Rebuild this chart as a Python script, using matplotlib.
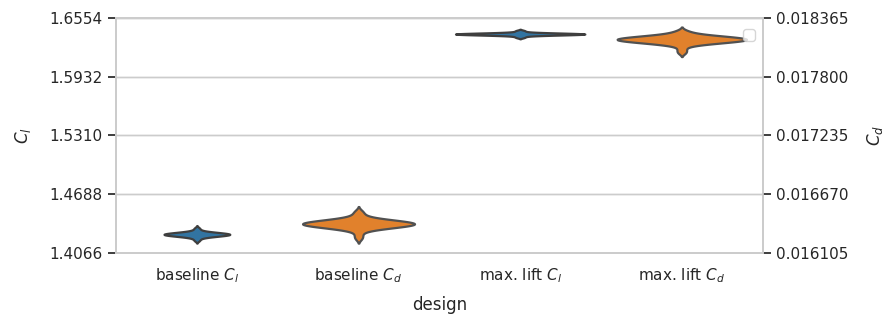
"""Violin plot of lift and drag coefficients for baseline vs. max-lift designs."""
import numpy as np
import pandas as pd
import matplotlib
matplotlib.use("Agg")
import matplotlib.pyplot as plt
from matplotlib.ticker import FixedLocator, FormatStrFormatter
import seaborn as sns

DESIGNS = ["baseline $C_l$", "baseline $C_d$", "max. lift $C_l$", "max. lift $C_d$"]

baseline_cl = [1.42636, 1.42648, 1.42660, 1.42672, 1.42684, 1.42697, 1.42710, 1.42723,
               1.42737, 1.42751, 1.42767, 1.42783, 1.42801, 1.42821, 1.42843, 1.42869,
               1.42901, 1.42946, 1.43030, 1.43170, 1.43314,
               1.42624, 1.42612, 1.42600, 1.42588, 1.42576, 1.42563, 1.42550, 1.42537,
               1.42523, 1.42509, 1.42493, 1.42477, 1.42459, 1.42439, 1.42417, 1.42391,
               1.42359, 1.42314, 1.42230, 1.42090, 1.41946]
maxlift_cl = [1.63843, 1.63849, 1.63855, 1.63861, 1.63867, 1.63873, 1.63880, 1.63887,
              1.63894, 1.63901, 1.63908, 1.63917, 1.63926, 1.63935, 1.63947, 1.63959,
              1.63976, 1.63998, 1.64040, 1.64128, 1.64218,
              1.63837, 1.63831, 1.63825, 1.63819, 1.63813, 1.63807, 1.63800, 1.63794,
              1.63787, 1.63779, 1.63772, 1.63763, 1.63755, 1.63745, 1.63734, 1.63721,
              1.63704, 1.63682, 1.63640, 1.63552, 1.63462]
baseline_cd = [0.0163861, 0.0163882, 0.0163903, 0.0163924, 0.0163946, 0.0163969, 0.0163991,
               0.0164015, 0.0164040, 0.0164065, 0.0164092, 0.0164121, 0.0164153, 0.0164188,
               0.0164227, 0.0164273, 0.0164331, 0.0164410, 0.0164559, 0.0164807, 0.0165062,
               0.0163840, 0.0163818, 0.0163797, 0.0163776, 0.0163754, 0.0163732, 0.0163709,
               0.0163685, 0.0163661, 0.0163635, 0.0163608, 0.0163579, 0.0163547, 0.0163512,
               0.0163473, 0.0163427, 0.0163369, 0.0163290, 0.0163141, 0.0162765, 0.0162446]
maxlift_cd = [0.0181600, 0.0181619, 0.0181638, 0.0181658, 0.0181677, 0.0181698, 0.0181718,
              0.0181740, 0.0181762, 0.0181786, 0.0181810, 0.0181837, 0.0181866, 0.0181897,
              0.0181933, 0.0181975, 0.0182027, 0.0182099, 0.0182234, 0.0182402,
              0.0181580, 0.0181561, 0.0181542, 0.0181522, 0.0181503, 0.0181482, 0.0181462,
              0.0181440, 0.0181418, 0.0181394, 0.0181370, 0.0181343, 0.0181314, 0.0181283,
              0.0181247, 0.0181205, 0.0181153, 0.0181081, 0.0180946, 0.0180604, 0.0180314]

CL_TICKS = [1.4066, 1.4688, 1.5310, 1.5932, 1.6554]
CD_TICKS = [0.016105, 0.016670, 0.017235, 0.017800, 0.018365]

sns.set_theme(style="whitegrid", palette="tab10")

cl_df = pd.DataFrame({
    "design": [DESIGNS[0]] * len(baseline_cl) + [DESIGNS[2]] * len(maxlift_cl),
    "value": baseline_cl + maxlift_cl,
})
cd_df = pd.DataFrame({
    "design": [DESIGNS[1]] * len(baseline_cd) + [DESIGNS[3]] * len(maxlift_cd),
    "value": baseline_cd + maxlift_cd,
})

fig, ax1 = plt.subplots(figsize=(8.93, 3.21), dpi=100)
ax2 = ax1.twinx()

sns.violinplot(data=cl_df, x="design", y="value", order=DESIGNS, color="C0",
               inner=None, linewidth=1.6, ax=ax1)
sns.violinplot(data=cd_df, x="design", y="value", order=DESIGNS, color="C1",
               inner=None, linewidth=1.6, ax=ax2)

ax1.set_ylim(CL_TICKS[0], CL_TICKS[-1])
ax1.yaxis.set_major_locator(FixedLocator(CL_TICKS))
ax1.yaxis.set_major_formatter(FormatStrFormatter("%.4f"))
ax2.set_ylim(CD_TICKS[0], CD_TICKS[-1])
ax2.yaxis.set_major_locator(FixedLocator(CD_TICKS))
ax2.yaxis.set_major_formatter(FormatStrFormatter("%.6f"))

ax1.set_xlabel("design", labelpad=8)
ax1.set_ylabel("$C_l$", labelpad=12)
ax2.set_ylabel("$C_d$", labelpad=12)
ax2.legend(loc="upper right", bbox_to_anchor=(1.0, 0.987))

fig.subplots_adjust(left=0.130, right=0.854, bottom=0.212, top=0.944)
fig.savefig("out.png", dpi=100)
plt.close(fig)
